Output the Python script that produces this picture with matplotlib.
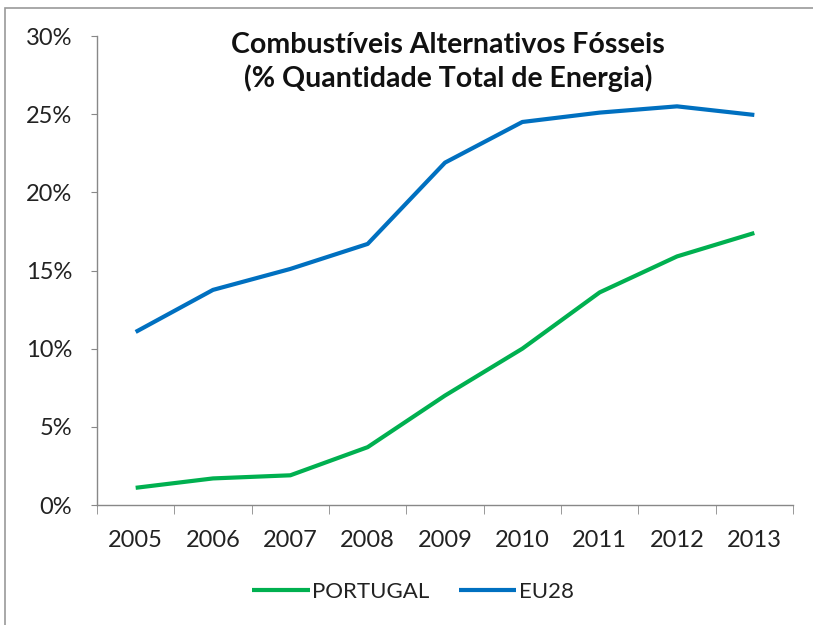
import matplotlib.pyplot as plt
from matplotlib.patches import Rectangle
from matplotlib.ticker import FuncFormatter

years = ["2005", "2006", "2007", "2008", "2009", "2010", "2011", "2012", "2013"]
portugal = [1.1, 1.7, 1.9, 3.7, 7.0, 10.0, 13.6, 15.9, 17.4]
eu28 = [11.07, 13.76, 15.1, 16.7, 21.9, 24.5, 25.1, 25.5, 24.95]

plt.rcParams["font.family"] = ["Lato", "DejaVu Sans"]

fig = plt.figure(figsize=(8.13, 6.25), dpi=100)
ax = fig.add_axes([97 / 813, 1 - 505 / 625, 696 / 813, 469 / 625])

x = list(range(len(years)))
ax.plot(x, portugal, color="#00B050", linewidth=3.0, label="PORTUGAL", solid_capstyle="butt")
ax.plot(x, eu28, color="#0070C0", linewidth=3.0, label="EU28", solid_capstyle="butt")

ax.set_xlim(-0.5, len(years) - 0.5)
ax.set_ylim(0, 30)
ax.set_yticks(range(0, 31, 5))
ax.yaxis.set_major_formatter(FuncFormatter(lambda v, _: f"{v:.0f}%"))

# category labels centred, tick marks between categories (Excel style)
ax.set_xticks(x)
ax.set_xticklabels(years)
ax.set_xticks([i - 0.5 for i in range(len(years) + 1)], minor=True)
ax.tick_params(axis="x", which="major", length=0, pad=18, labelsize=17, colors="#222222")
ax.tick_params(axis="x", which="minor", length=6.5, direction="out", color="#888888")
ax.tick_params(axis="y", length=4, direction="out", color="#888888", labelsize=17,
               labelcolor="#222222", pad=14)

for side in ("top", "right"):
    ax.spines[side].set_visible(False)
for side in ("left", "bottom"):
    ax.spines[side].set_color("#888888")
    ax.spines[side].set_linewidth(1.0)

fig.text(448 / 813, 1 - 45 / 625, "Combustíveis Alternativos Fósseis", ha="center", va="center",
         fontsize=20.5, fontweight="bold", color="#111111")
fig.text(448 / 813, 1 - 78 / 625, "(% Quantidade Total de Energia)", ha="center", va="center",
         fontsize=20.5, fontweight="bold", color="#111111")

fig.legend(loc="center", bbox_to_anchor=(413 / 813, 1 - 592 / 625), ncol=2, frameon=False,
           fontsize=16, handlelength=2.6, handletextpad=0.1, columnspacing=1.3,
           labelcolor="#222222")

# outer chart border (cut off on right and bottom like the reference)
fig.patches.append(Rectangle((5 / 813, -0.05), 1.0, 1 - 8 / 625 + 0.05, transform=fig.transFigure,
                             fill=False, edgecolor="#9a9a9a", linewidth=1.2))

fig.savefig("out.png", dpi=100)
